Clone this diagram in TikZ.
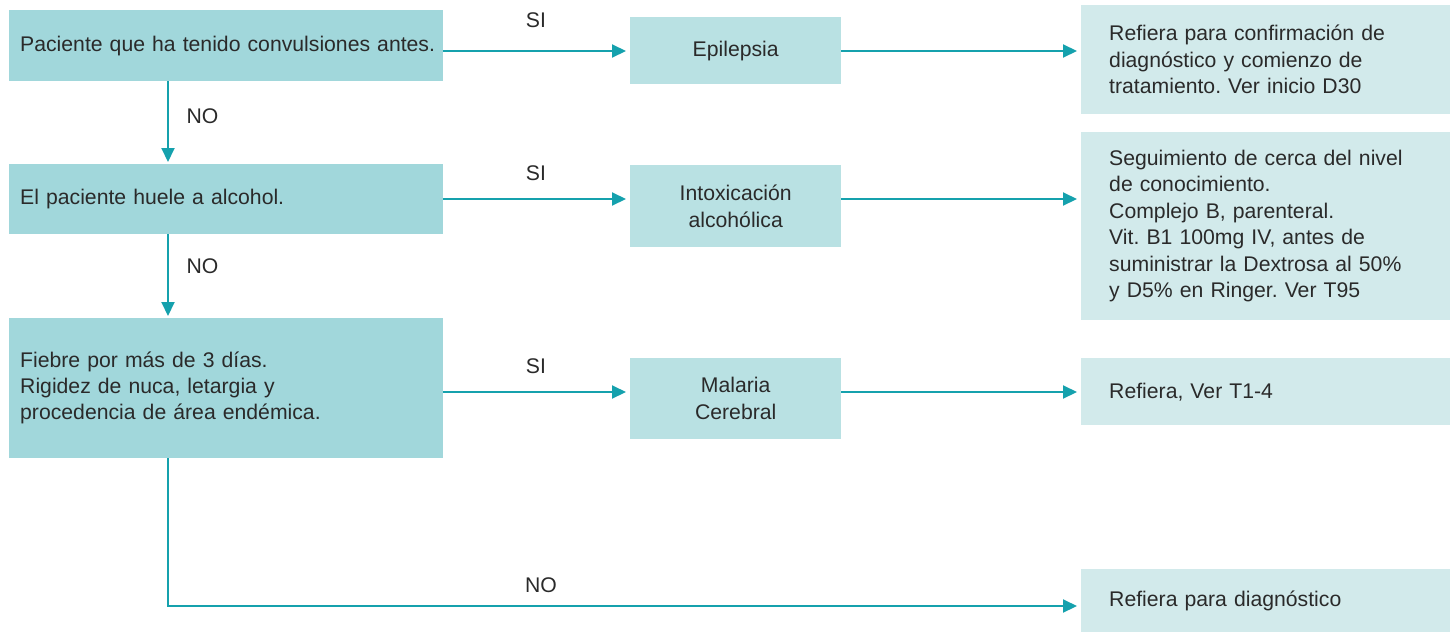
\documentclass[tikz,border=0pt]{standalone}
\usepackage{fontspec}
\setmainfont{Liberation Sans}
\frenchspacing
\usepackage{xcolor}
\usepackage{tikz}
\usetikzlibrary{arrows.meta}
\definecolor{linkteal}{RGB}{21,161,173}
\definecolor{textgrey}{RGB}{42,42,42}
\definecolor{condfill}{RGB}{161,215,219}
\definecolor{diagfill}{RGB}{185,225,227}
\definecolor{actfill}{RGB}{210,234,235}
\tikzset{
  condbox/.style={fill=condfill,anchor=north west,align=left,
    text width=412pt,inner xsep=11pt,inner ysep=0pt,
    minimum width=434pt,text=textgrey,font=\fontsize{21.2}{26}\selectfont},
  diagbox/.style={fill=diagfill,anchor=north west,align=center,
    minimum width=211pt,inner sep=0pt,text=textgrey,
    font=\fontsize{21.2}{27}\selectfont},
  actbox/.style={fill=actfill,anchor=north west,align=left,
    text width=313pt,inner xsep=28pt,inner ysep=0pt,
    minimum width=369pt,text=textgrey,font=\fontsize{21.2}{26.5}\selectfont},
  flow/.style={-{Triangle[length=14pt,width=13pt]},line width=2pt,
    draw=linkteal,shorten >=4pt},
  answer/.style={text=textgrey,font=\fontsize{21.2}{26}\selectfont}
}
\begin{document}
\begin{tikzpicture}[x=1pt,y=-1pt]
  \useasboundingbox (0,0) rectangle (1450,632);
  % left column: questions
  \node[condbox,minimum height=71pt] (cond1) at (9,10)
    {\mbox{Paciente que ha tenido convulsiones antes.}};
  \node[condbox,minimum height=70pt] (cond2) at (9,164)
    {El paciente huele a alcohol.};
  \node[condbox,minimum height=140pt] (cond3) at (9,318)
    {Fiebre por más de 3 días.\\Rigidez de nuca, letargia y\\procedencia de área endémica.};
  % middle column
  \node[diagbox,minimum height=67pt] (epi) at (630,17) {Epilepsia};
  \node[diagbox,minimum height=82pt] (intox) at (630,165)
    {Intoxicación\\alcohólica};
  \node[diagbox,minimum height=81pt] (malaria) at (630,358)
    {Malaria\\Cerebral};
  % right column
  \node[actbox,minimum height=109pt] (ref1) at (1081,5)
    {Refiera para confirmación de\\diagnóstico y comienzo de\\tratamiento. Ver inicio D30};
  \node[actbox,minimum height=188pt] (ref2) at (1081,132)
    {Seguimiento de cerca del nivel\\de conocimiento.\\Complejo B, parenteral.\\
     Vit. B1 100mg IV, antes de\\suministrar la Dextrosa al 50\%\\y D5\% en Ringer. Ver T95};
  \node[actbox,minimum height=67pt] (ref3) at (1081,358) {Refiera, Ver T1-4};
  \node[actbox,minimum height=63pt] (ref4) at (1081,569) {Refiera para diagnóstico};
  % rows and trunk
  \coordinate (r1) at (0,51);
  \coordinate (r2) at (0,199);
  \coordinate (r3) at (0,392);
  \coordinate (r4) at (0,606);
  \coordinate (v) at (168,0);
  \draw[flow] (cond1.east |- r1) -- (epi.west |- r1);
  \draw[flow] (epi.east |- r1) -- (ref1.west |- r1);
  \draw[flow] (cond2.east |- r2) -- (intox.west |- r2);
  \draw[flow] (intox.east |- r2) -- (ref2.west |- r2);
  \draw[flow] (cond3.east |- r3) -- (malaria.west |- r3);
  \draw[flow] (malaria.east |- r3) -- (ref3.west |- r3);
  \draw[flow,shorten >=2pt] (cond1.south -| v) -- (cond2.north -| v);
  \draw[flow,shorten >=2pt] (cond2.south -| v) -- (cond3.north -| v);
  \draw[flow] (cond3.south -| v) |- (ref4.west |- r4);
  % answers
  \node[answer] (si1) at (536,20) {SI};
  \node[answer] (si2) at (536,173) {SI};
  \node[answer] (si3) at (536,366) {SI};
  \node[answer,anchor=west] (no1) at (183,116) {NO};
  \node[answer,anchor=west] (no2) at (183,266) {NO};
  \node[answer] (no3) at (541,585) {NO};
\end{tikzpicture}
\end{document}
